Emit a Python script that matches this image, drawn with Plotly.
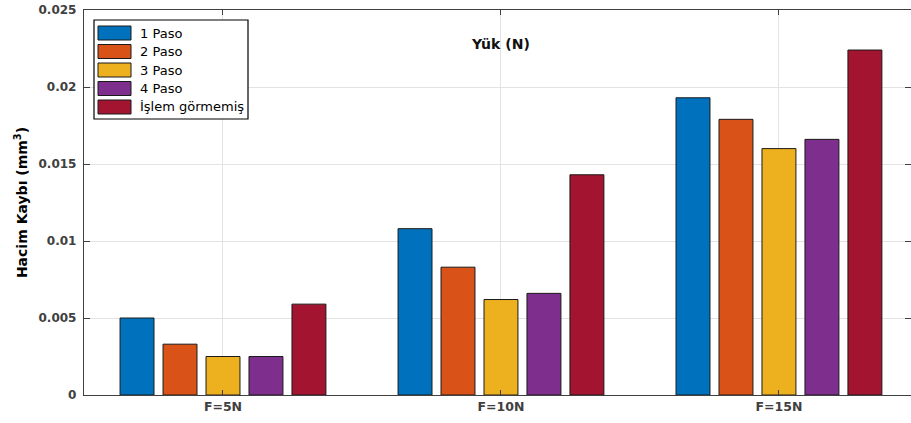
import plotly.graph_objects as go

categories = ["F=5N", "F=10N", "F=15N"]
series_names = ["1 Paso", "2 Paso", "3 Paso", "4 Paso", "İşlem görmemiş"]
paso1 = [0.0050, 0.0108, 0.0193]
paso2 = [0.0033, 0.0083, 0.0179]
paso3 = [0.0025, 0.0062, 0.0160]
paso4 = [0.0025, 0.0066, 0.0166]
islenmemis = [0.0059, 0.0143, 0.0224]
y_tickvals = [0, 0.005, 0.01, 0.015, 0.02, 0.025]
y_ticktext = ["0", "0.005", "0.01", "0.015", "0.02", "0.025"]
colors = ["#0072BD", "#D95319", "#EDB120", "#7E2F8E", "#A2142F"]

series_values = [paso1, paso2, paso3, paso4, islenmemis]

W, H = 911, 423
L, R, T, B = 84, 0, 10, 28
pw, ph = W - L - R, H - T - B

def px_x(p):
    return (p - L) / pw

def px_y(p):
    return (H - B - p) / ph

FONT = "DejaVu Sans"

fig = go.Figure()
for name, vals, c in zip(series_names, series_values, colors):
    fig.add_trace(go.Bar(
        x=categories, y=vals, name=name, showlegend=False,
        marker=dict(color=c, line=dict(color="#1a1a1a", width=1)),
    ))

# manual legend (MATLAB style)
shapes = [dict(type="rect", xref="paper", yref="paper",
               x0=px_x(94), x1=px_x(248), y0=px_y(119), y1=px_y(20),
               fillcolor="white", line=dict(color="black", width=1.2), layer="above")]
annotations = []
for i, (name, c) in enumerate(zip(series_names, colors)):
    top = 26 + 18.5 * i
    shapes.append(dict(type="rect", xref="paper", yref="paper",
                       x0=px_x(98), x1=px_x(131), y0=px_y(top + 14), y1=px_y(top),
                       fillcolor=c, line=dict(color="#1a1a1a", width=1), layer="above"))
    annotations.append(dict(x=px_x(138), y=px_y(top + 7), xref="paper", yref="paper",
                            text=name, showarrow=False, xanchor="left", yanchor="middle",
                            font=dict(family=FONT, size=13, color="black")))

annotations.append(dict(x=px_x(500), y=px_y(44), xref="paper", yref="paper",
                        text="<b>Yük (N)</b>", showarrow=False,
                        xanchor="center", yanchor="middle",
                        font=dict(family=FONT, size=14, color="#111111")))

fig.update_layout(
    width=W, height=H,
    margin=dict(l=L, r=R, t=T, b=B, pad=0),
    paper_bgcolor="white", plot_bgcolor="white",
    barmode="group", bargap=0.227, bargroupgap=0.21,
    showlegend=False,
    shapes=shapes, annotations=annotations,
    font=dict(family=FONT),
)
fig.update_xaxes(
    type="category", range=[-0.5, 2.475],
    showline=True, linecolor="#404040", linewidth=1.3, mirror="ticks",
    ticks="inside", ticklen=5, tickcolor="#404040",
    showgrid=True, gridcolor="#e3e3e3", gridwidth=1,
    tickfont=dict(family=FONT, size=12.5, color="#404040", weight="bold"),
    automargin=False,
)
fig.update_yaxes(
    range=[0, 0.025], tickvals=y_tickvals, ticktext=y_ticktext,
    showline=True, linecolor="#404040", linewidth=1.3, mirror="ticks",
    ticks="inside", ticklen=6, tickcolor="#404040",
    showgrid=True, gridcolor="#e3e3e3", gridwidth=1, zeroline=False,
    tickfont=dict(family=FONT, size=12, color="#404040", weight="bold"),
    ticklabelstandoff=4,
    title=dict(text="<b>Hacim Kaybı (mm<sup>3</sup>)</b>", standoff=7,
               font=dict(family=FONT, size=14, color="black")),
    automargin=False,
)

fig.write_html("out.html", config={"displayModeBar": False},
               post_script="document.body.style.margin='0';document.body.style.overflow='hidden';")
